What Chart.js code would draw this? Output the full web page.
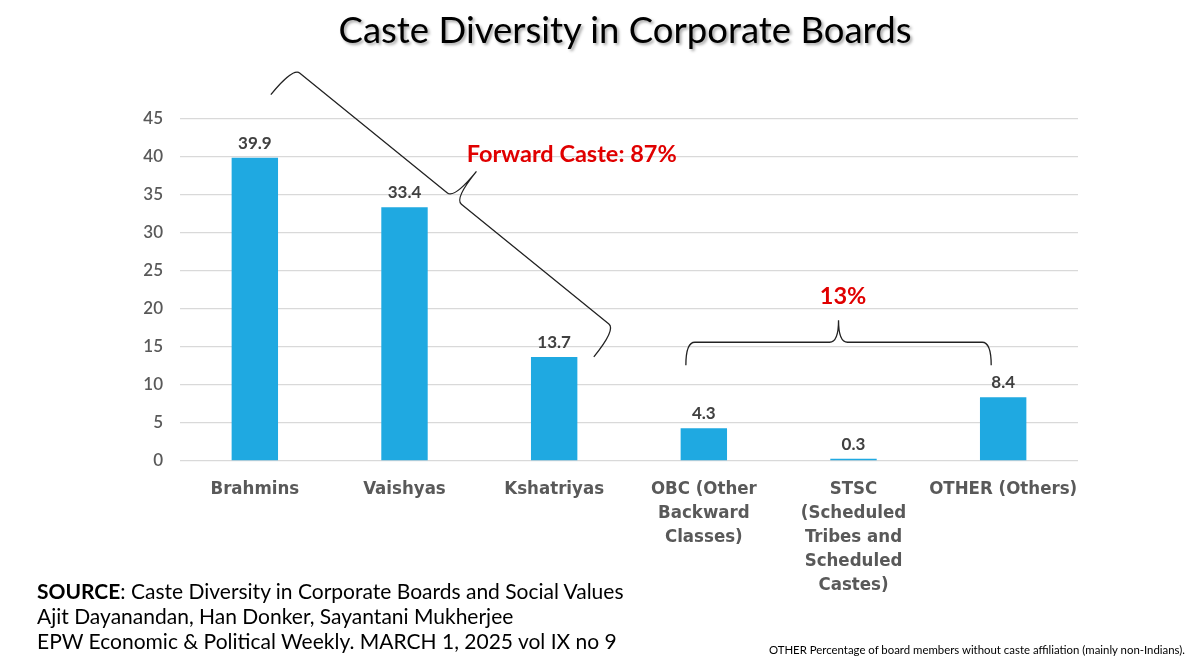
<!DOCTYPE html>
<html>
<head>
<meta charset="utf-8">
<script src="https://cdn.jsdelivr.net/npm/chart.js@4"></script>
<style>
  body { margin: 0; background: #fff; }
  #wrap { position: absolute; left: 0; top: 0; width: 1200px; height: 668px; }
  .title {
    position: absolute; left: 0; top: 7px; width: 1250px; text-align: center;
    font: 36.5px Lato, sans-serif; color: #000;
    text-shadow: 2px 2px 3px rgba(0,0,0,0.35);
  }
  .source {
    position: absolute; left: 37px; top: 578px;
    font: 21px Lato, sans-serif; color: #000; line-height: 25px;
  }
  .note {
    position: absolute; right: 15px; top: 643px;
    font: 11.4px Lato, sans-serif; color: #000;
  }
</style>
</head>
<body>
<div id="wrap"><canvas id="chart"></canvas></div>
<div class="title">Caste Diversity in Corporate Boards</div>
<div class="source"><b>SOURCE</b>: Caste Diversity in Corporate Boards and Social Values<br>Ajit Dayanandan, Han Donker, Sayantani Mukherjee<br>EPW Economic &amp; Political Weekly. MARCH 1, 2025 vol IX no 9</div>
<div class="note">OTHER Percentage of board members without caste affiliation (mainly non-Indians).</div>
<script>
// values
const categories = [
    ['Brahmins'],
    ['Vaishyas'],
    ['Kshatriyas'],
    ['OBC (Other', 'Backward', 'Classes)'],
    ['STSC', '(Scheduled', 'Tribes and', 'Scheduled', 'Castes)'],
    ['OTHER (Others)'],
];
const shares = [39.9, 33.4, 13.7, 4.3, 0.3, 8.4];
const yMin = 0, yMax = 45, yStep = 5;

const BAR_BLUE = '#1FA9E1';
const LABEL_GREY = '#595959';
const RED = '#E00000';

// curly brace from a to b, bulging to the left of a->b
function drawBrace(ctx, a, b, h, t) {
    const dx = b[0] - a[0], dy = b[1] - a[1];
    const L = Math.hypot(dx, dy);
    const ux = dx / L, uy = dy / L;
    const r = 9;
    ctx.save();
    ctx.translate(a[0], a[1]);
    ctx.transform(ux, uy, uy, -ux, 0, 0);
    ctx.beginPath();
    ctx.moveTo(0, 0);
    ctx.quadraticCurveTo(0, h, r, h);
    ctx.lineTo(L / 2 - r, h);
    ctx.quadraticCurveTo(L / 2, h, L / 2, h + t);
    ctx.quadraticCurveTo(L / 2, h, L / 2 + r, h);
    ctx.lineTo(L - r, h);
    ctx.quadraticCurveTo(L, h, L, 0);
    ctx.restore();
    ctx.strokeStyle = '#222';
    ctx.lineWidth = 1.3;
    ctx.stroke();
}

const annotations = {
    id: 'annotations',
    afterDraw(chart) {
        const { ctx, scales: { x, y } } = chart;
        const px = (i, v) => [x.getPixelForValue(i), y.getPixelForValue(v)];

        // value labels above bars
        const meta = chart.getDatasetMeta(0);
        ctx.save();
        ctx.font = 'bold 17px Lato, sans-serif';
        ctx.fillStyle = '#404040';
        ctx.textAlign = 'center';
        ctx.textBaseline = 'bottom';
        meta.data.forEach((bar, i) => {
            ctx.fillText(shares[i].toFixed(1), bar.x, bar.y - 6);
        });

        // group braces
        drawBrace(ctx, px(0.107, 48.2), px(2.265, 13.7), 35, 35);
        drawBrace(ctx, px(2.88, 12.6), px(4.92, 12.6), 23, 22);

        // group labels
        ctx.fillStyle = RED;
        ctx.font = 'bold 23.5px Lato, sans-serif';
        ctx.textBaseline = 'middle';
        ctx.textAlign = 'left';
        const fc = px(1.416, 40.3);
        ctx.fillText('Forward Caste: 87%', fc[0], fc[1]);
        ctx.textAlign = 'center';
        const bc = px(3.93, 21.6);
        ctx.fillText('13%', bc[0], bc[1]);
        ctx.restore();
    }
};

new Chart(document.getElementById('chart'), {
    type: 'bar',
    data: {
        labels: categories,
        datasets: [{
            data: shares,
            backgroundColor: BAR_BLUE,
            barPercentage: 0.31,
            categoryPercentage: 1,
        }]
    },
    options: {
        responsive: true,
        maintainAspectRatio: false,
        animation: false,
        devicePixelRatio: 1,
        layout: { padding: { left: 0, right: 122, top: 119, bottom: 0 } },
        plugins: {
            legend: { display: false },
            tooltip: { enabled: false },
        },
        scales: {
            x: {
                grid: { display: false },
                border: { display: false },
                afterFit: (s) => { s.height = 207; },
                ticks: {
                    color: LABEL_GREY,
                    autoSkip: false,
                    maxRotation: 0,
                    padding: 8,
                    font: { family: '"DejaVu Sans Condensed", sans-serif', size: 18.5, weight: 'bold', lineHeight: 1.3 },
                }
            },
            y: {
                min: yMin,
                max: yMax,
                afterFit: (s) => { s.width = 180; },
                grid: { color: '#D9D9D9', lineWidth: 1.3, drawTicks: false },
                border: { display: false },
                ticks: {
                    stepSize: yStep,
                    color: LABEL_GREY,
                    padding: 17,
                    font: { family: 'Lato, sans-serif', size: 17, weight: '600' },
                }
            }
        }
    },
    plugins: [annotations]
});
</script>
</body>
</html>
